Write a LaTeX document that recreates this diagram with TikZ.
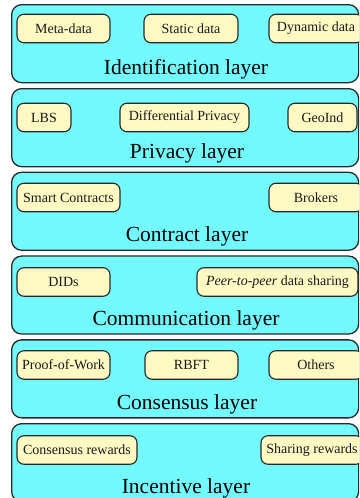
\documentclass[tikz,border=0pt]{standalone}
\usepackage{fontspec}
\setmainfont{Liberation Serif}
\definecolor{layerfill}{RGB}{115,250,254}
\definecolor{itemfill}{RGB}{255,250,196}
\definecolor{edge}{RGB}{40,40,40}
\tikzset{
  layerbox/.style={draw=edge, line width=1.3pt, fill=layerfill, rounded corners=10pt,
    minimum width=347pt, minimum height=78pt, anchor=north west, inner sep=0pt},
  itembox/.style={draw=edge, line width=1.1pt, fill=itemfill, rounded corners=7pt,
    minimum height=28.5pt, inner sep=0pt, text=black!90, font=\fontsize{14}{16}\selectfont},
  layertitle/.style={anchor=base, inner sep=0pt, font=\fontsize{21.5}{24}\selectfont}
}
\begin{document}
\begin{tikzpicture}[x=1pt,y=-1pt]
\useasboundingbox (0,0) rectangle (359,498);
\clip (0,0) rectangle (359,498);
% layers
\node[layerbox] (L1) at (11,4) {};
\node[layerbox] (L2) at (11,88) {};
\node[layerbox] (L3) at (11,171.6) {};
\node[layerbox] (L4) at (11,255.4) {};
\node[layerbox] (L5) at (11,339.2) {};
\node[layerbox] (L6) at (11,423) {};
% titles
\node[layertitle] (T1) at (186,74) {Identification layer};
\node[layertitle] (T2) at (187,158) {Privacy layer};
\node[layertitle] (T3) at (187,241.6) {Contract layer};
\node[layertitle] (T4) at (186,325.4) {Communication layer};
\node[layertitle] (T5) at (187,409.2) {Consensus layer};
\node[layertitle] (T6) at (186,493) {Incentive layer};
% layer 1
\node[itembox, minimum width=93pt] (meta) at (63.5,28.5) {Meta-data};
\node[itembox, minimum width=94pt] (static) at (191,28.5) {Static data};
\node[itembox, minimum width=94pt] (dynamic) at (316,28.5) {Dynamic data};
% layer 2
\node[itembox, minimum width=54pt] (lbs) at (44,117.5) {LBS};
\node[itembox, minimum width=129pt] (dp) at (184.5,117.5) {Differential Privacy};
\node[itembox, minimum width=69pt] (geoind) at (322.5,117.5) {GeoInd};
% layer 3
\node[itembox, minimum width=103pt] (smart) at (68.5,197.5) {Smart Contracts};
\node[itembox, minimum width=94pt] (brokers) at (316,197.5) {Brokers};
% layer 4
\node[itembox, minimum width=93pt] (dids) at (63.5,282) {DIDs};
\node[itembox, minimum width=161pt] (p2p) at (277.5,282) {\textit{Peer-to-peer} data sharing};
% layer 5
\node[itembox, minimum width=93pt] (pow) at (63.5,365) {Proof-of-Work};
\node[itembox, minimum width=93pt] (rbft) at (191.5,365) {RBFT};
\node[itembox, minimum width=94pt] (others) at (316,365) {Others};
% layer 6
\node[itembox, minimum width=120pt] (crew) at (77,450) {Consensus rewards};
\node[itembox, minimum width=102pt] (srew) at (312,450) {Sharing rewards};
\end{tikzpicture}
\end{document}
